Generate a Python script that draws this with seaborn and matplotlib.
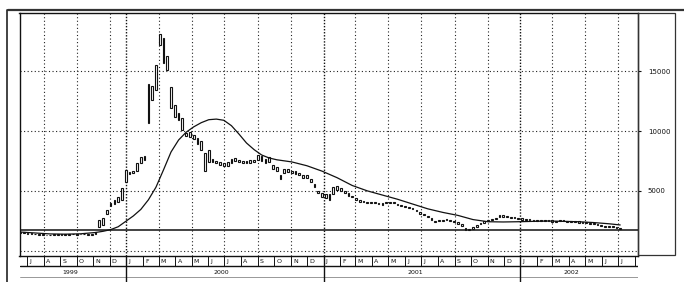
import pandas as pd
import numpy as np
import seaborn as sns
import matplotlib.pyplot as plt
from matplotlib.lines import Line2D
from matplotlib.patches import Rectangle

sns.set_style('white')
plt.rcParams['font.family'] = ['DejaVu Sans']

# weekly candle bodies (low / high of body), first week ends 1999-06-18
body_lo = [1450, 1480, 1420, 1400, 1380, 1350, 1330, 1290, 1300, 1310,
           1320, 1330, 1340, 1350, 1360, 1350, 1370, 1380, 1350, 1330,
           1400, 2000, 2150, 3100, 3700, 3900, 4100, 4200, 5700, 6400,
           6500, 6700, 7300, 7600, 10700, 12600, 13400, 17200, 15700, 15100,
           11900, 11200, 10900, 10100, 9600, 9500, 9300, 8900, 8400, 6700,
           7400, 7400, 7300, 7200, 7100, 7100, 7300, 7500, 7400, 7300,
           7300, 7350, 7400, 7600, 7500, 7300, 7400, 6800, 6700, 6000,
           6500, 6600, 6500, 6450, 6300, 6100, 6050, 5700, 5300, 4800,
           4500, 4400, 4200, 4700, 5100, 5000, 4800, 4600, 4450, 4250,
           4100, 4050, 4000, 3950, 3950, 3880, 3850, 3950, 4000, 3950,
           3800, 3750, 3650, 3550, 3500, 3300, 3100, 2950, 2800, 2600,
           2400, 2450, 2500, 2550, 2500, 2400, 2250, 2050, 1750, 1700,
           1800, 1950, 2200, 2350, 2450, 2550, 2650, 2800, 2850, 2800,
           2750, 2700, 2650, 2600, 2550, 2550, 2500, 2500, 2500, 2480,
           2450, 2400, 2420, 2450, 2450, 2400, 2400, 2380, 2350, 2300,
           2300, 2250, 2200, 2150, 2050, 2000, 1950, 1950, 1900, 1800]
body_hi = [1550, 1520, 1480, 1460, 1430, 1420, 1380, 1340, 1350, 1360,
           1380, 1390, 1390, 1400, 1420, 1400, 1420, 1430, 1400, 1380,
           1520, 2600, 2700, 3400, 4000, 4250, 4500, 5250, 6750, 6600,
           6700, 7300, 7800, 7900, 13900, 13800, 15500, 18100, 17800, 16300,
           13700, 12200, 11500, 11100, 9800, 9900, 9700, 9400, 9200, 8200,
           8400, 7700, 7500, 7400, 7300, 7400, 7700, 7750, 7600, 7500,
           7500, 7550, 7600, 8000, 7900, 7700, 7800, 7200, 7000, 6300,
           6800, 6800, 6700, 6650, 6500, 6350, 6300, 6000, 5600, 5000,
           4800, 4700, 4700, 5300, 5400, 5200, 5000, 4800, 4600, 4400,
           4250, 4150, 4100, 4050, 4050, 3980, 3950, 4050, 4100, 4050,
           3900, 3850, 3750, 3650, 3600, 3400, 3200, 3050, 2900, 2700,
           2500, 2550, 2600, 2650, 2600, 2500, 2400, 2200, 1900, 1800,
           1950, 2150, 2350, 2450, 2550, 2650, 2750, 2950, 3000, 2900,
           2850, 2800, 2750, 2700, 2650, 2650, 2600, 2600, 2600, 2580,
           2550, 2550, 2520, 2550, 2550, 2500, 2500, 2480, 2450, 2400,
           2400, 2350, 2300, 2250, 2150, 2100, 2050, 2050, 2000, 1900]

# moving average (week index -> value)
ma_week = [0, 4, 8, 12, 16, 20, 22, 24, 26, 28, 30, 32, 34, 36, 38, 40,
           42, 44, 46, 48, 50, 52, 54, 56, 58, 60, 62, 64, 66, 68, 72, 76,
           80, 84, 88, 92, 96, 100, 104, 108, 112, 116, 120, 124, 128, 132,
           136, 140, 144, 148, 152, 156, 159]
ma_value = [1560, 1480, 1400, 1380, 1410, 1520, 1620, 1760, 2000, 2450,
            2900, 3450, 4250, 5300, 6750, 8250, 9250, 9900, 10350, 10700,
            10950, 11000, 10900, 10450, 9750, 9000, 8450, 8000, 7750, 7600,
            7420, 7100, 6650, 6100, 5450, 5000, 4650, 4300, 3900, 3500,
            3200, 2950, 2600, 2420, 2400, 2420, 2450, 2480, 2450, 2420,
            2350, 2250, 2150]

ref_level = 1730
y_ticks = [5000, 10000, 15000]
month_letters = ['J', 'F', 'M', 'A', 'M', 'J', 'J', 'A', 'S', 'O', 'N', 'D']
years = ['1999', '2000', '2001', '2002']

weeks = pd.date_range('1999-06-18', periods=len(body_lo), freq='7D')
candles = pd.DataFrame({'date': weeks, 'lo': body_lo, 'hi': body_hi})
ma = pd.DataFrame({'date': weeks[ma_week], 'ma': ma_value})

W, H = 684, 282
fig = plt.figure(figsize=(W / 100, H / 100), dpi=100)

def box(x0, y0, x1, y1):
    # pixel box (top-left origin) -> figure fraction rect
    return [x0 / W, 1 - y1 / H, (x1 - x0) / W, (y1 - y0) / H]

ax = fig.add_axes(box(19.5, 13, 638, 256))
strip = fig.add_axes(box(19.5, 256, 638, 282), sharex=ax)

x0, x1 = pd.Timestamp('1999-06-17'), pd.Timestamp('2002-08-07')
ax.set_xlim(x0, x1)
ax.set_ylim(-445, 19870)

# grid
for v in [0] + y_ticks:
    ax.axhline(v, color='#222222', lw=0.8, ls=(0, (1, 2.2)), zorder=1)
grid_dates = ['1999-08-01', '1999-10-01', '1999-12-01',
              '2000-03-01', '2000-05-01', '2000-07-01', '2000-09-01', '2000-11-01',
              '2001-03-01', '2001-05-01', '2001-07-01', '2001-09-01', '2001-11-01',
              '2002-03-01', '2002-05-01', '2002-07-01']
for d in grid_dates:
    ax.axvline(pd.Timestamp(d), color='#222222', lw=0.8, ls=(0, (1, 2.2)), zorder=1)
year_starts = [pd.Timestamp(f'{y}-01-01') for y in years[1:]]
for d in year_starts:
    ax.axvline(d, color='#111111', lw=1.0, ls=(0, (1, 1.2)), zorder=1)

ax.axhline(ref_level, color='#111111', lw=1.1, zorder=2)

# candles
ax.bar(candles['date'], candles['hi'] - candles['lo'], bottom=candles['lo'],
       width=3.2, facecolor='white', edgecolor='#111111', linewidth=0.8, zorder=3)

# moving average
sns.lineplot(data=ma, x='date', y='ma', ax=ax, color='#111111', lw=0.9,
             zorder=4, legend=False)

ax.set_xlabel('')
ax.set_ylabel('')
ax.yaxis.tick_right()
ax.set_yticks(y_ticks)
ax.set_yticklabels([str(v) for v in y_ticks], fontsize=5)
ax.tick_params(axis='y', length=2, width=0.8, pad=5, colors='#111111')
ax.tick_params(axis='x', bottom=False, labelbottom=False)
for s in ax.spines.values():
    s.set_color('#111111')
    s.set_linewidth(1.0)

# month / year strip
strip.set_ylim(0, 26)
strip.axis('off')
months = pd.date_range('1999-07-01', '2002-07-01', freq='MS')
strip.axhline(16, color='#111111', lw=1.0)
strip.axhline(5, color='#888888', lw=0.6)
for m in months:
    strip.vlines(m, 16, 26, color='#111111', lw=0.7)
    strip.text(m + pd.Timedelta(days=4), 20.5, month_letters[m.month - 1],
               fontsize=4.5, ha='left', va='center', color='#111111')
strip.vlines(pd.Timestamp('2002-08-01'), 16, 26, color='#111111', lw=0.7)
for d in year_starts:
    strip.vlines(d, 0, 26, color='#111111', lw=1.0)
year_mid = [pd.Timestamp('1999-09-20'), pd.Timestamp('2000-06-25'),
            pd.Timestamp('2001-06-20'), pd.Timestamp('2002-04-05')]
for d, y in zip(year_mid, years):
    strip.text(d, 9, y, fontsize=4.5, ha='center', va='center', color='#111111')

# page frame
fig.add_artist(Line2D([8 / W, 1], [1 - 10 / H, 1 - 10 / H], color='#333333', lw=1.6))
fig.add_artist(Line2D([7 / W, 7 / W], [0, 1 - 10 / H], color='#222222', lw=1.2))
fig.add_artist(Rectangle((638 / W, 1 - 255 / H), 37 / W, 242 / H, fill=False,
                         edgecolor='#333333', lw=0.9))

fig.savefig('out.png', dpi=100)
